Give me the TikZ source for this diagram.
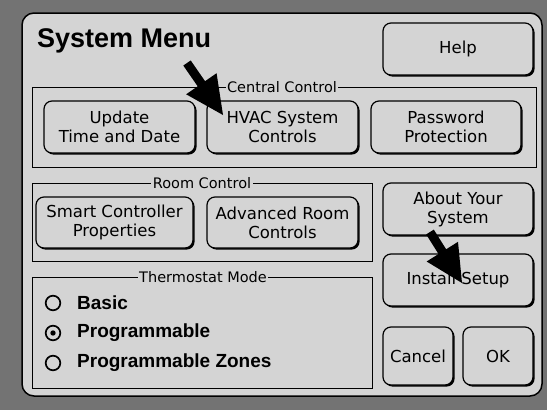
\documentclass[tikz,border=0pt]{standalone}
\usepackage{fontspec}
\setmainfont{DejaVu Sans}
\newfontfamily\boldfam{Liberation Sans}[BoldFont={Liberation Sans Bold}]
\usetikzlibrary{calc,shadows}
\definecolor{panel}{RGB}{212,212,212}
\definecolor{bgdots}{RGB}{115,115,115}
\tikzset{
  btn/.style={draw, line width=1.2pt, rounded corners=8pt, fill=panel,
    align=center, inner sep=2pt, font=\fontsize{16.5}{19}\selectfont,
    drop shadow={shadow xshift=1.6pt, shadow yshift=-1.6pt, fill=black, opacity=1}},
  grp/.style={draw, line width=1pt},
  grplabel/.style={fill=panel, inner sep=1.5pt, font=\fontsize{14.5}{16}\selectfont},
  radiotext/.style={anchor=west, inner sep=0pt, font=\boldfam\bfseries\fontsize{19}{22}\selectfont},
  radiocircle/.style={line width=1.7pt},
  arrowfill/.style={fill=black}
}
\begin{document}
\begin{tikzpicture}[x=1pt,y=-1pt]
\useasboundingbox (0,0) rectangle (547,410);
\fill[bgdots] (0,0) rectangle (547,410);
\draw[fill=panel, line width=1.5pt, rounded corners=12pt] (22,13) rectangle (542,396);

\node[anchor=west, inner sep=0pt, font=\boldfam\bfseries\fontsize{27}{30}\selectfont] (title) at (37,41) {System Menu};

% groups
\draw[grp] (32,87) rectangle (536,167);
\node[grplabel] (lcentral) at (282,87) {Central Control};
\draw[grp] (32,183) rectangle (372,261);
\node[grplabel] (lroom) at (202,183) {Room Control};
\draw[grp] (32,277) rectangle (372,388);
\node[grplabel] (ltherm) at (203,277) {Thermostat Mode};

% buttons
\node[btn, minimum width=150pt, minimum height=52pt] (help) at (458,49) {Help};
\node[btn, minimum width=151pt, minimum height=52pt] (update) at (119.5,127) {Update\\Time and Date};
\node[btn, minimum width=151pt, minimum height=52pt] (hvac) at (282.5,127) {HVAC System\\Controls};
\node[btn, minimum width=150pt, minimum height=52pt] (password) at (446,127) {Password\\Protection};
\node[btn, minimum width=157pt, minimum height=51pt] (smart) at (114.5,222.5) {Smart Controller\\Properties};
\node[btn, minimum width=151pt, minimum height=51pt] (advanced) at (282.5,222.5) {Advanced Room\\Controls};
\node[btn, minimum width=150pt, minimum height=52pt] (about) at (458,209) {About Your\\System};
\node[btn, minimum width=150pt, minimum height=52pt] (install) at (458,280) {Install Setup};
\node[btn, minimum width=70pt, minimum height=58pt] (cancel) at (418,356) {Cancel};
\node[btn, minimum width=70pt, minimum height=58pt] (ok) at (498,356) {OK};

% radios
\coordinate (r1) at (53,303);
\coordinate (r2) at (53,333);
\coordinate (r3) at (53,363);
\draw[radiocircle] (r1) circle (7.3pt);
\draw[radiocircle] (r2) circle (7.3pt);
\fill (r2) circle (2.7pt);
\draw[radiocircle] (r3) circle (7.3pt);
\node[radiotext] (t1) at (77,303) {Basic};
\node[radiotext] (t2) at (77,333) {Programmable};
\node[radiotext] (t3) at (77,363) {Programmable Zones};

% big arrows
\coordinate (a1tail) at (187,63);
\coordinate (a1tip) at (223,115);
\coordinate (a1b) at ($(a1tip)!38pt!(a1tail)$);
\fill[arrowfill] ($(a1tail)!4.5pt!90:(a1b)$) -- ($(a1b)!4.5pt!-90:(a1tail)$) -- ($(a1b)!18.5pt!-90:(a1tail)$) -- (a1tip) -- ($(a1b)!18.5pt!90:(a1tail)$) -- ($(a1b)!4.5pt!90:(a1tail)$) -- ($(a1tail)!4.5pt!-90:(a1b)$) -- cycle;

\coordinate (a2tail) at (430,232);
\coordinate (a2tip) at (462,283);
\coordinate (a2b) at ($(a2tip)!37pt!(a2tail)$);
\fill[arrowfill] ($(a2tail)!4.5pt!90:(a2b)$) -- ($(a2b)!4.5pt!-90:(a2tail)$) -- ($(a2b)!18.5pt!-90:(a2tail)$) -- (a2tip) -- ($(a2b)!18.5pt!90:(a2tail)$) -- ($(a2b)!4.5pt!90:(a2tail)$) -- ($(a2tail)!4.5pt!-90:(a2b)$) -- cycle;
\end{tikzpicture}
\end{document}
